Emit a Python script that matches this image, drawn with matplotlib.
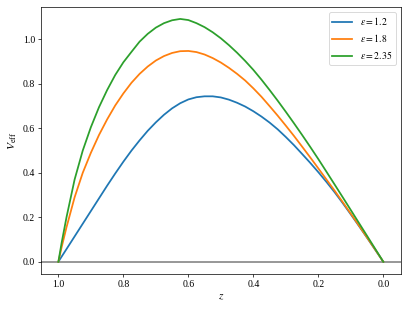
import matplotlib
matplotlib.use("Agg")
import matplotlib.pyplot as plt

# values
z = [1.0, 0.99, 0.975, 0.95, 0.925, 0.9, 0.875, 0.85, 0.825, 0.8, 0.775, 0.75,
     0.725, 0.7, 0.675, 0.65, 0.625, 0.6, 0.575, 0.55, 0.525, 0.5, 0.475, 0.45,
     0.425, 0.4, 0.375, 0.35, 0.325, 0.3, 0.275, 0.25, 0.225, 0.2, 0.175, 0.15,
     0.125, 0.1, 0.075, 0.05, 0.025, 0.0]
v_12 = [0.0, 0.023, 0.057, 0.114, 0.171, 0.228, 0.285, 0.342, 0.397, 0.45, 0.5, 0.546,
        0.589, 0.627, 0.661, 0.69, 0.713, 0.73, 0.74, 0.744, 0.744, 0.739, 0.729, 0.715,
        0.698, 0.677, 0.653, 0.626, 0.5955, 0.561, 0.5245, 0.485, 0.445, 0.403, 0.359, 0.313,
        0.264, 0.213, 0.161, 0.108, 0.054, 0.0]
v_18 = [0.0, 0.065, 0.155, 0.29, 0.4, 0.49, 0.57, 0.64, 0.703, 0.757, 0.805, 0.845,
        0.878, 0.905, 0.925, 0.939, 0.947, 0.948, 0.943, 0.932, 0.916, 0.896, 0.872, 0.845,
        0.815, 0.78, 0.742, 0.7, 0.657, 0.612, 0.566, 0.518, 0.4695, 0.42, 0.37, 0.32,
        0.2685, 0.216, 0.163, 0.109, 0.0548, 0.0]
v_235 = [0.0, 0.085, 0.2, 0.37, 0.5, 0.605, 0.695, 0.772, 0.84, 0.897, 0.944, 0.99,
         1.025, 1.053, 1.073, 1.086, 1.092, 1.087, 1.073, 1.055, 1.032, 1.005, 0.974, 0.94,
         0.903, 0.863, 0.819, 0.7725, 0.7243, 0.6743, 0.623, 0.5705, 0.5168, 0.4618, 0.405, 0.3478,
         0.2903, 0.2325, 0.1745, 0.1165, 0.0583, 0.0]
labels = [r"$\varepsilon = 1.2$", r"$\varepsilon = 1.8$", r"$\varepsilon = 2.35$"]

plt.rcParams["font.family"] = "serif"
plt.rcParams["font.serif"] = ["Liberation Serif", "DejaVu Serif"]
plt.rcParams["mathtext.fontset"] = "stix"
plt.rcParams["font.size"] = 11

dpi = 407 / 6.4
fig = plt.figure(figsize=(6.4, 312 / dpi), dpi=dpi)
ax = fig.add_axes([0.1015, 0.1218, 0.883, 0.8567])

ax.axhline(0, color="gray", lw=1.8, zorder=1)
for v, lab in zip([v_12, v_18, v_235], labels):
    ax.plot(z, v, lw=2, label=lab, zorder=2)

ax.set_xlim(1.0525, -0.0535)
ax.set_ylim(-0.055, 1.147)
ax.set_xlabel(r"$z$", fontsize=13)
ax.set_ylabel(r"$V_{\rm eff}$", fontsize=13)
ax.legend(loc="upper right")

fig.savefig("out.png", dpi=dpi)
